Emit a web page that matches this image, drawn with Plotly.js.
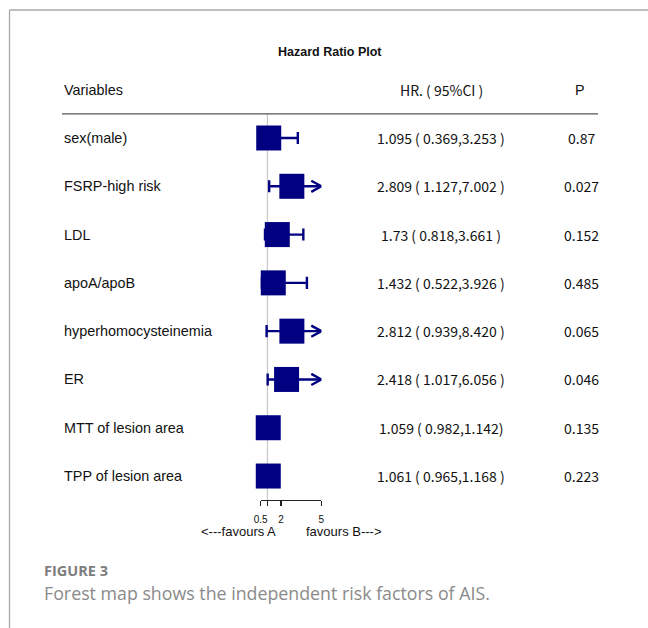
<!DOCTYPE html>
<html>
<head>
<meta charset="utf-8">
<script src="https://cdn.plot.ly/plotly-3.0.1.min.js"></script>
<style>
  html, body { margin: 0; padding: 0; background: #fff; }
  #chart { width: 648px; height: 628px; }
</style>
</head>
<body>
<div id="chart"></div>
<script>
// Hazard ratios with 95% confidence intervals for each risk factor
const variables = ['sex(male)', 'FSRP-high risk', 'LDL', 'apoA/apoB', 'hyperhomocysteinemia',
                   'ER', 'MTT of lesion area', 'TPP of lesion area'];
const hrText = ['1.095', '2.809', '1.73', '1.432', '2.812', '2.418', '1.059', '1.061'];
const lowerText = ['0.369', '1.127', '0.818', '0.522', '0.939', '1.017', '0.982', '0.965'];
const upperText = ['3.253', '7.002', '3.661', '3.926', '8.420', '6.056', '1.142', '1.168'];
const closeParen = [' )', ' )', ' )', ' )', ' )', ' )', ')', ' )'];
const pValues = ['0.87', '0.027', '0.152', '0.485', '0.065', '0.046', '0.135', '0.223'];
const tickValues = [0.5, 1, 2, 5];
const tickLabels = ['0.5', '', '2', '5'];

const hr = hrText.map(Number);
const lower = lowerText.map(Number);
const upper = upperText.map(Number);
const rows = variables.map((_, i) => i + 1);

const xMin = 0.5, xMax = 5;
const navy = '#000080';
const capHalf = 0.125;          // half height of whisker end caps (row units)
const arrowBack = 0.75, arrowHalf = 0.115;

// whiskers, end caps and arrows for intervals running past the axis
const wx = [], wy = [];
const ax = [], ay = [];
rows.forEach((r, i) => {
  const lo = Math.max(lower[i], xMin);
  const hi = Math.min(upper[i], xMax);
  wx.push(lo, hi, null); wy.push(r, r, null);
  if (lower[i] >= xMin) { wx.push(lo, lo, null); wy.push(r - capHalf, r + capHalf, null); }
  if (upper[i] <= xMax) { wx.push(hi, hi, null); wy.push(r - capHalf, r + capHalf, null); }
  else { ax.push(xMax - arrowBack, xMax, xMax - arrowBack, null); ay.push(r - arrowHalf, r, r + arrowHalf, null); }
});

const traces = [
  { type: 'scatter', mode: 'lines', x: wx, y: wy, cliponaxis: false,
    line: { color: navy, width: 2.4 }, hoverinfo: 'skip', showlegend: false },
  { type: 'scatter', mode: 'lines', x: ax, y: ay, cliponaxis: false,
    line: { color: navy, width: 2.4 }, hoverinfo: 'skip', showlegend: false },
  { type: 'scatter', mode: 'markers', x: hr, y: rows, cliponaxis: false,
    marker: { symbol: 'square', size: 25, color: navy, line: { width: 0 } },
    showlegend: false }
];

const textFont = { family: 'Liberation Sans, Arial, sans-serif', size: 14.4, color: '#111' };
const cjkFont = { family: 'Noto Sans CJK SC, sans-serif', size: 14, color: '#111' };

const annotations = [];
annotations.push({ text: '<b>Hazard Ratio Plot</b>', xref: 'paper', yref: 'paper', x: 330 / 648, y: 1 - 52 / 628,
  xanchor: 'center', yanchor: 'middle', showarrow: false,
  font: { family: 'Liberation Sans, Arial, sans-serif', size: 12.5, color: '#111' } });
annotations.push({ text: 'Variables', xref: 'paper', yref: 'y', x: 62 / 648, y: 0, xanchor: 'left', yanchor: 'middle',
  showarrow: false, font: textFont });
annotations.push({ text: 'HR. ( 95%CI )', xref: 'paper', yref: 'y', x: 441 / 648, y: 0, xanchor: 'center', yanchor: 'middle',
  showarrow: false, font: cjkFont });
annotations.push({ text: 'P', xref: 'paper', yref: 'y', x: 580 / 648, y: 0, xanchor: 'center', yanchor: 'middle',
  showarrow: false, font: textFont });

rows.forEach((r, i) => {
  annotations.push({ text: variables[i], xref: 'paper', yref: 'y', x: 62 / 648, y: r,
    xanchor: 'left', yanchor: 'middle', showarrow: false, font: textFont });
  annotations.push({ text: hrText[i] + ' ( ' + lowerText[i] + ',' + upperText[i] + closeParen[i],
    xref: 'paper', yref: 'y', x: 441 / 648, y: r, xanchor: 'center', yanchor: 'middle', showarrow: false, font: cjkFont });
  annotations.push({ text: pValues[i], xref: 'paper', yref: 'y', x: 581 / 648, y: r,
    xanchor: 'center', yanchor: 'middle', showarrow: false, font: cjkFont });
});

const sideFont = { family: 'Liberation Sans, Arial, sans-serif', size: 13, color: '#111' };
annotations.push({ text: '<---favours A', xref: 'paper', yref: 'paper', x: 239 / 648, y: 1 - 531 / 628,
  xanchor: 'center', yanchor: 'middle', showarrow: false, font: sideFont });
annotations.push({ text: 'favours B--->', xref: 'paper', yref: 'paper', x: 344 / 648, y: 1 - 531 / 628,
  xanchor: 'center', yanchor: 'middle', showarrow: false, font: sideFont });

annotations.push({ text: '<b>FIGURE 3</b>', xref: 'paper', yref: 'paper', x: 42 / 648, y: 1 - 570 / 628,
  xanchor: 'left', yanchor: 'middle', showarrow: false,
  font: { family: 'Open Sans, sans-serif', size: 14.5, color: '#7d7d7d' } });
annotations.push({ text: 'Forest map shows the independent risk factors of AIS.', xref: 'paper', yref: 'paper',
  x: 42 / 648, y: 1 - 593 / 628, xanchor: 'left', yanchor: 'middle', showarrow: false,
  font: { family: 'Open Sans, sans-serif', size: 17.8, color: '#8a8a8a' } });

// rows sit 48.3 px apart, row 1 centred 138 px from the top
const rowPx = 48.29, firstPx = 138, H = 628;
const yTop = 1 - firstPx / rowPx;
const yBottom = 1 + (H - firstPx) / rowPx;
const axisRow = rows.length + 0.5;

const layout = {
  width: 648, height: 628,
  margin: { l: 0, r: 0, t: 0, b: 0 },
  paper_bgcolor: '#fff', plot_bgcolor: 'rgba(0,0,0,0)',
  xaxis: {
    domain: [260.7 / 648, 321.4 / 648], range: [xMin, xMax],
    anchor: 'free', position: 1 - (firstPx + (axisRow - 1) * rowPx) / H,
    showgrid: false, zeroline: false, showline: true, linecolor: '#222', linewidth: 1.2,
    ticks: 'outside', ticklen: 5, tickwidth: 1.2, tickcolor: '#222',
    ticklabelstandoff: 5,
    tickvals: tickValues, ticktext: tickLabels,
    tickfont: { family: 'Liberation Sans, Arial, sans-serif', size: 10, color: '#111' }
  },
  yaxis: { domain: [0, 1], range: [yBottom, yTop], visible: false },
  shapes: [
    // reference line at HR = 1
    { type: 'line', xref: 'x', yref: 'y', x0: 1, x1: 1, y0: 0.5, y1: axisRow,
      line: { color: '#c8c8c8', width: 1.2 }, layer: 'below' },
    // rule under the column headers
    { type: 'line', xref: 'paper', yref: 'y', x0: 62 / 648, x1: 598 / 648, y0: 0.5, y1: 0.5,
      line: { color: '#555', width: 1.3 } },
    // frame edges
    { type: 'line', xref: 'paper', yref: 'paper', x0: 9.5 / 648, x1: 1, y0: 1 - 10 / 628, y1: 1 - 10 / 628,
      line: { color: '#aaaaaa', width: 1.3 } },
    { type: 'line', xref: 'paper', yref: 'paper', x0: 9.5 / 648, x1: 9.5 / 648, y0: 0, y1: 1 - 10 / 628,
      line: { color: '#aaaaaa', width: 1.3 } }
  ],
  annotations: annotations,
  hovermode: false
};

Plotly.newPlot('chart', traces, layout, { displayModeBar: false, staticPlot: true });
</script>
</body>
</html>
